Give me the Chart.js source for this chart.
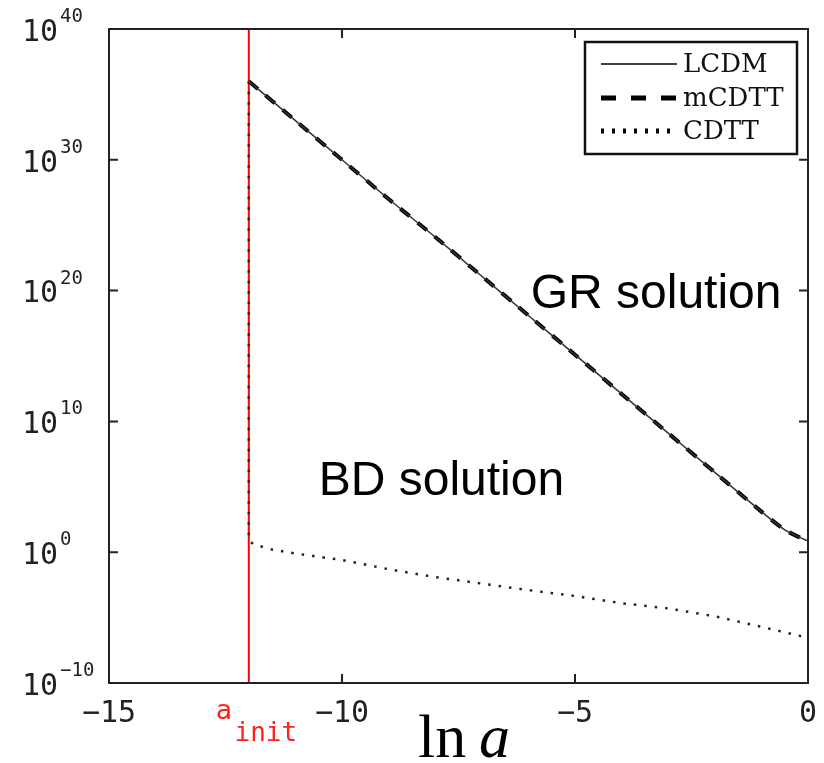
<!DOCTYPE html>
<html><head><meta charset="utf-8">
<script src="https://cdn.jsdelivr.net/npm/chart.js@4"></script>
<style>html,body{margin:0;padding:0;background:#fff;}</style>
</head><body>
<canvas id="c" width="824" height="763"></canvas>
<script>
// ---- data ----
const seriesNames = ['LCDM', 'mCDTT', 'CDTT'];
const lnA_LCDM   = [-12, -11, -10, -9, -8, -7, -6, -5, -4, -3, -2, -1, -0.5, -0.25, 0];
const log10_LCDM = [36.0, 33.0, 30.0, 27.0, 24.1, 21.1, 18.1, 15.1, 12.1, 9.1, 6.1, 3.1, 1.7, 1.25, 0.86];
const lnA_mCDTT   = [-12, -11, -10, -9, -8, -7, -6, -5, -4, -3, -2, -1, -0.5, -0.25, 0];
const log10_mCDTT = [36.0, 33.0, 30.0, 27.0, 24.1, 21.1, 18.1, 15.1, 12.1, 9.1, 6.1, 3.1, 1.7, 1.25, 0.86];
const lnA_CDTT   = [-12, -12, -11.9, -11.5, -11, -10, -9, -8, -7, -6, -5, -4, -3, -2, -1, 0];
const log10_CDTT = [36.0, 0.9, 0.6, 0.2, -0.1, -0.6, -1.3, -1.9, -2.4, -2.9, -3.35, -3.9, -4.3, -4.9, -5.7, -6.55];
const xTicks = [-15, -10, -5, 0];
const yTickExponents = [-10, 0, 10, 20, 30, 40];
const aInit = -12;
const aInitLabel = ['a', 'init'];
const regionLabels = [
  { text: 'GR solution', x: -5.95, exp: 19.7 },
  { text: 'BD solution', x: -10.5, exp: 5.4 }
];
const xAxisTitle = ['ln', 'a'];

const toPts = (xs, ls) => xs.map((x, i) => ({ x: x, y: Math.pow(10, ls[i]) }));
const minus = s => String(s).replace('-', '\u2212');

const framePlugin = {
  id: 'frame',
  beforeDatasetsDraw(chart) {
    const { ctx, chartArea: a, scales: { x } } = chart;
    const px = x.getPixelForValue(aInit);
    ctx.save();
    ctx.strokeStyle = '#ff0000';
    ctx.lineWidth = 2;
    ctx.beginPath(); ctx.moveTo(px, a.top); ctx.lineTo(px, a.bottom); ctx.stroke();
    ctx.restore();
  },
  afterDatasetsDraw(chart) {
    const { ctx, chartArea: a, scales: { x, y } } = chart;
    ctx.save();
    ctx.strokeStyle = '#222';
    ctx.lineWidth = 2;
    ctx.strokeRect(a.left, a.top, a.right - a.left, a.bottom - a.top);
    const tl = 9;
    ctx.beginPath();
    xTicks.forEach(v => {
      const p = x.getPixelForValue(v);
      if (p <= a.left + 1 || p >= a.right - 1) return;
      ctx.moveTo(p, a.bottom); ctx.lineTo(p, a.bottom - tl);
      ctx.moveTo(p, a.top); ctx.lineTo(p, a.top + tl);
    });
    yTickExponents.forEach(e => {
      const p = y.getPixelForValue(Math.pow(10, e));
      if (p <= a.top + 1 || p >= a.bottom - 1) return;
      ctx.moveTo(a.left, p); ctx.lineTo(a.left + tl, p);
      ctx.moveTo(a.right, p); ctx.lineTo(a.right - tl, p);
    });
    ctx.stroke();
    ctx.restore();
  },
  afterDraw(chart) {
    const { ctx, chartArea: a, scales: { x, y } } = chart;
    ctx.save();
    // y tick labels 10^n
    ctx.fillStyle = '#222';
    ctx.textBaseline = 'middle';
    yTickExponents.forEach(e => {
      const p = y.getPixelForValue(Math.pow(10, e));
      ctx.font = '30px "DejaVu Sans Mono"';
      ctx.textAlign = 'right';
      ctx.fillText('10', 58, p + 4);
      ctx.font = '19px "DejaVu Sans Mono"';
      ctx.textAlign = 'left';
      ctx.fillText(minus(e), 60, p - 12);
    });
    // a_init label
    const px = x.getPixelForValue(aInit);
    ctx.fillStyle = '#ff2020';
    ctx.textAlign = 'center';
    ctx.font = '27px "DejaVu Sans Mono"';
    ctx.fillText(aInitLabel[0], px - 25, a.bottom + 29);
    ctx.font = '26px "DejaVu Sans Mono"';
    ctx.fillText(aInitLabel[1], px + 17, a.bottom + 51);
    // region labels
    ctx.fillStyle = '#000';
    ctx.textAlign = 'left';
    ctx.font = '48px "Liberation Sans"';
    regionLabels.forEach(r => {
      ctx.fillText(r.text, x.getPixelForValue(r.x), y.getPixelForValue(Math.pow(10, r.exp)));
    });
    // x axis title: ln a
    ctx.textBaseline = 'alphabetic';
    ctx.font = '62px "Liberation Serif"';
    ctx.fillText(xAxisTitle[0], 418, 757);
    ctx.font = 'italic 62px "Liberation Serif"';
    ctx.fillText(xAxisTitle[1], 479, 757);
    // legend
    const L = 585, T = 42, R = 797, B = 154;
    ctx.fillStyle = '#fff';
    ctx.fillRect(L, T, R - L, B - T);
    ctx.strokeStyle = '#111';
    ctx.lineWidth = 2.5;
    ctx.strokeRect(L, T, R - L, B - T);
    const rows = [64, 98, 131];
    const ds = chart.data.datasets;
    ds.forEach((d, i) => {
      const yy = rows[i];
      ctx.save();
      ctx.strokeStyle = '#000';
      if (i === 0) { ctx.lineWidth = 1.5; ctx.setLineDash([]); }
      if (i === 1) { ctx.lineWidth = 5; ctx.setLineDash([15, 15]); }
      if (i === 2) { ctx.lineWidth = 5; ctx.setLineDash([3, 8]); }
      ctx.beginPath(); ctx.moveTo(601, yy); ctx.lineTo(677, yy); ctx.stroke();
      ctx.restore();
      ctx.fillStyle = '#111';
      ctx.textBaseline = 'middle';
      ctx.textAlign = 'left';
      ctx.font = '26px "DejaVu Serif"';
      ctx.fillText(d.label, 683, yy + 1);
    });
    ctx.restore();
  }
};

new Chart(document.getElementById('c'), {
  type: 'line',
  data: {
    datasets: [
      { label: seriesNames[0], data: toPts(lnA_LCDM, log10_LCDM), borderColor: '#333', borderWidth: 1.5, pointRadius: 0, tension: 0.2, fill: false },
      { label: seriesNames[1], data: toPts(lnA_mCDTT, log10_mCDTT), borderColor: '#000', borderWidth: 4, borderDash: [12, 10], pointRadius: 0, tension: 0.2, fill: false },
      { label: seriesNames[2], data: toPts(lnA_CDTT, log10_CDTT), borderColor: '#222', borderWidth: 2.5, borderDash: [2.5, 8], pointRadius: 0, tension: 0, fill: false }
    ]
  },
  options: {
    responsive: false,
    animation: false,
    devicePixelRatio: 1,
    layout: { padding: { left: 109, right: 16, top: 29, bottom: 0 } },
    plugins: { legend: { display: false }, tooltip: { enabled: false } },
    scales: {
      x: {
        type: 'linear', min: -15, max: 0,
        afterBuildTicks: s => { s.ticks = xTicks.map(v => ({ value: v })); },
        afterFit: s => { s.height = 80; s.paddingLeft = 0; s.paddingRight = 0; },
        grid: { display: false }, border: { display: false },
        ticks: { autoSkip: false, maxRotation: 0, padding: 5, color: '#222',
          font: { family: 'DejaVu Sans Mono', size: 30 }, callback: v => minus(v) }
      },
      y: {
        type: 'logarithmic', min: 1e-10, max: 1e40,
        afterBuildTicks: s => { s.ticks = yTickExponents.map(e => ({ value: Math.pow(10, e) })); },
        afterFit: s => { s.width = 0; s.paddingTop = 0; s.paddingBottom = 0; },
        grid: { display: false }, border: { display: false },
        ticks: { display: false }
      }
    }
  },
  plugins: [framePlugin]
});
</script>
</body></html>
